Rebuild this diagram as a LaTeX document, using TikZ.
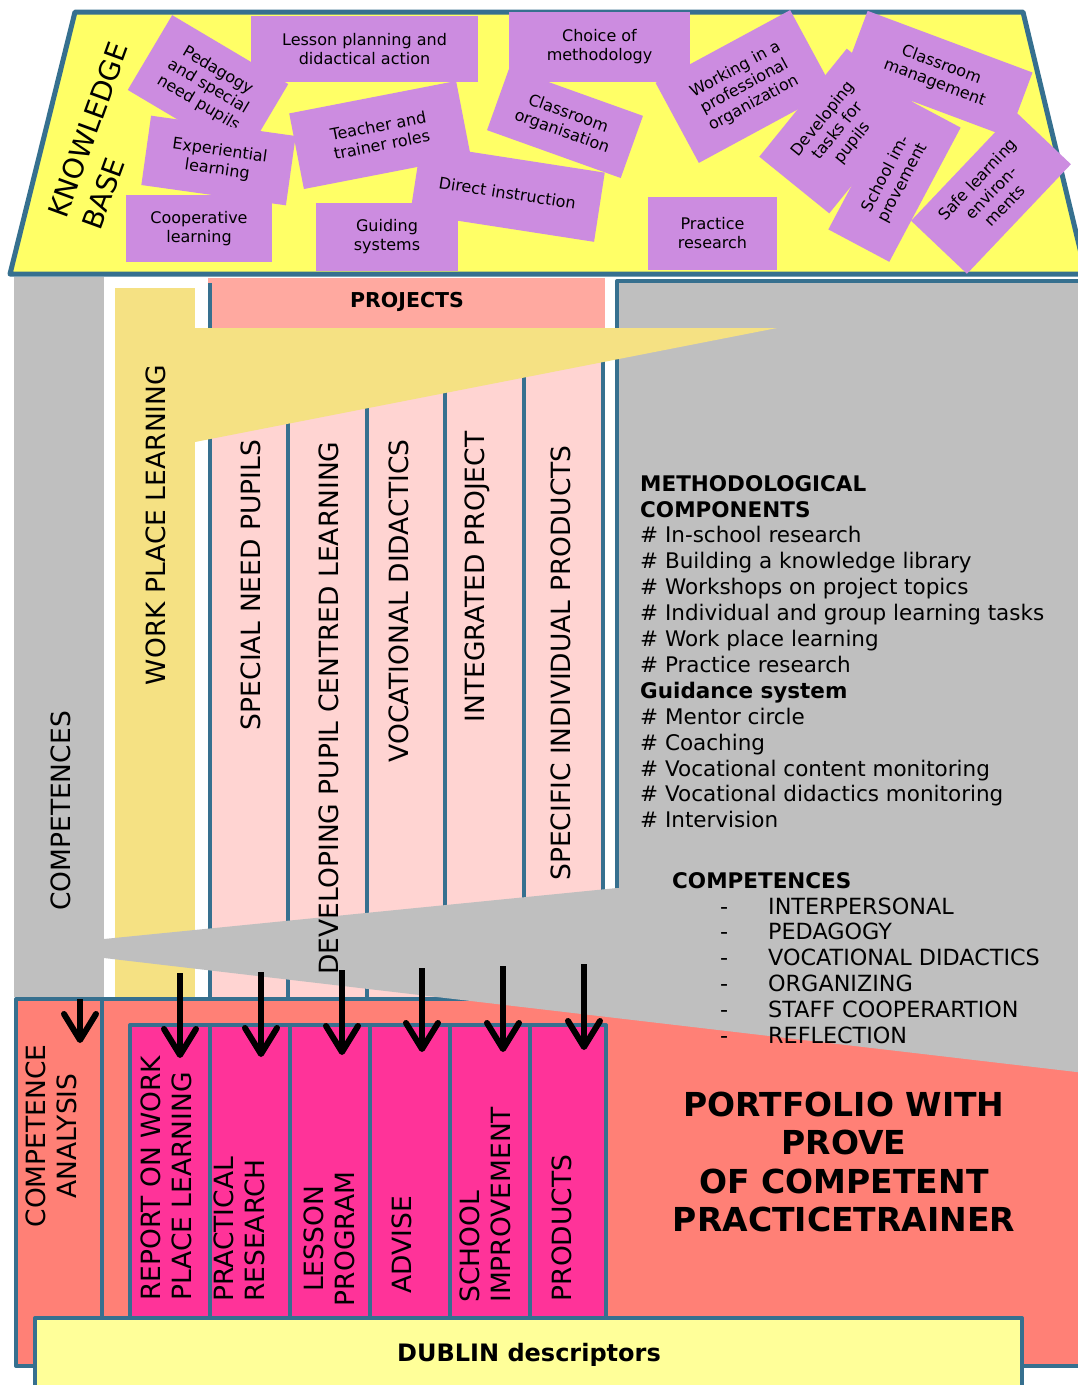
\documentclass[tikz,border=0pt]{standalone}
\usepackage{fontspec}
\setmainfont{DejaVu Sans}
\definecolor{frameblue}{HTML}{36708F}
\definecolor{roofyellow}{HTML}{FFFF66}
\definecolor{cardlilac}{HTML}{CC8CE0}
\definecolor{pillargrey}{HTML}{BFBFBF}
\definecolor{wplyellow}{HTML}{F5E183}
\definecolor{projsalmon}{HTML}{FFA9A0}
\definecolor{colpink}{HTML}{FFD4D2}
\definecolor{portsalmon}{HTML}{FF8076}
\definecolor{prodmagenta}{HTML}{FF3399}
\definecolor{dublinyellow}{HTML}{FFFF99}
\usetikzlibrary{arrows.meta}
\newcommand{\cardfont}{\fontsize{16}{19}\selectfont}
\newcommand{\capsfont}{\fontsize{26.5}{31}\selectfont}
\newcommand{\listfont}{\fontsize{21.5}{25.9}\selectfont}
\newcommand{\complistfont}{\fontsize{22.3}{25.9}\selectfont}

\begin{document}
\begin{tikzpicture}[x=1pt, y=-1pt, line join=round,
    card/.style={fill=cardlilac, align=center, inner sep=0pt, font=\cardfont},
    capsv/.style={rotate=90, inner sep=0pt, font=\capsfont},
    frame/.style={draw=frameblue, line width=4pt},
    downarrow/.style={line width=6pt, -{Straight Barb[length=26pt,width=32pt,round]}}]
      \useasboundingbox (0,0) rectangle (1077,1385);
      \fill[white] (0,0) rectangle (1077,1385);
      % Knowledge base roof
      \draw[frame, line width=5pt, fill=roofyellow] (75,12) -- (1023,12) -- (1086,274) -- (10,274) -- cycle;
      \node[rotate=70, align=left, inner sep=0pt, font=\fontsize{28}{36}\selectfont] (knowledge) at (105,136) {KNOWLEDGE\\BASE};
      % Cards on the roof
      \node[card, minimum width=135pt, minimum height=87pt, rotate=-30.7] (pedagogy) at (208,87) {Pedagogy\\and special\\need pupils};
      \node[card, minimum width=227pt, minimum height=66pt] (lessonplan) at (364.5,49) {Lesson planning and\\didactical action};
      \node[card, minimum width=146pt, minimum height=70pt, rotate=-8] (experiential) at (218.5,160.5) {Experiential\\learning};
      \node[card, minimum width=146pt, minimum height=67pt] (cooperative) at (199,228.5) {Cooperative\\learning};
      \node[card, minimum width=186pt, minimum height=70pt, rotate=-8.8] (direct) at (507.5,193) {Direct instruction};
      \node[card, minimum width=170pt, minimum height=77pt, rotate=11] (teacher) at (380,135) {Teacher and\\trainer roles};
      \node[card, minimum width=142pt, minimum height=68pt] (guiding) at (387,237) {Guiding\\systems};
      \node[card, minimum width=142pt, minimum height=66pt, rotate=-19.7] (classorg) at (565,123) {Classroom\\organisation};
      \node[card, minimum width=181pt, minimum height=70pt] (choice) at (599.5,47) {Choice of\\methodology};
      \node[card, minimum width=153pt, minimum height=91pt, rotate=28.4] (working) at (744.5,86.5) {Working in a\\professional\\organization};
      \node[card, minimum width=139pt, minimum height=90pt, rotate=51] (developing) at (838,131) {Developing\\tasks for\\pupils};
      \node[card, minimum width=176pt, minimum height=69pt, rotate=-20.5] (management) at (938,74) {Classroom\\management};
      \node[card, minimum width=152pt, minimum height=69pt, rotate=62] (schoolimp) at (894.5,178.5) {School im-\\provement};
      \node[card, minimum width=151pt, minimum height=77pt, rotate=46.5] (safe) at (991,192.5) {Safe learning\\environ-\\ments};
      \node[card, minimum width=129pt, minimum height=73pt] (practice) at (712.5,233.5) {Practice\\research};
      % Pillars
      \fill[pillargrey] (14,277) rectangle (104,997);
      \fill[wplyellow] (115,288) rectangle (195,997);
      % Projects
      \fill[projsalmon] (208,278) rectangle (605,330);
      \fill[colpink] (210,328) rectangle (603,997);
      \draw[frame] (210,283) -- (210,997);
      \draw[frame] (288,330) -- (288,997);
      \draw[frame] (367,330) -- (367,997);
      \draw[frame] (445,330) -- (445,997);
      \draw[frame] (524,330) -- (524,997);
      \draw[frame] (603,330) -- (603,997);
      % Portfolio base
      \draw[frame, fill=portsalmon] (102,999) rectangle (1085,1366);
      \draw[frame, fill=portsalmon] (16,999) rectangle (102,1366);
      % Grey panel and wedge
      \fill[pillargrey] (617,280) -- (1085,280) -- (1085,1073) -- (104,958) -- (104,939) -- (617,888) -- cycle;
      \draw[frame] (617,888) -- (617,281) -- (1085,281);
      % Yellow wedge
      \fill[wplyellow] (195,328) -- (777,328) -- (195,442) -- cycle;
      % Portfolio products
      \draw[frame, fill=prodmagenta] (130,1025) rectangle (606,1318);
      \draw[frame] (210,1025) -- (210,1318);
      \draw[frame] (290,1025) -- (290,1318);
      \draw[frame] (370,1025) -- (370,1318);
      \draw[frame] (450,1025) -- (450,1318);
      \draw[frame] (530,1025) -- (530,1318);
      % Dublin descriptors
      \draw[frame, fill=dublinyellow] (35,1318) rectangle (1022,1395);
      \node[font=\bfseries\fontsize{24}{28}\selectfont, inner sep=0pt] (dublin) at (529,1355) {DUBLIN descriptors};
      % Arrows
      \coordinate (src0) at (80,999);   \coordinate (dst0) at (80,1043);
      \coordinate (src1) at (180,973);  \coordinate (dst1) at (180,1058);
      \coordinate (src2) at (261,972);  \coordinate (dst2) at (261,1057);
      \coordinate (src3) at (342,970);  \coordinate (dst3) at (342,1055);
      \coordinate (src4) at (422,968);  \coordinate (dst4) at (422,1052);
      \coordinate (src5) at (503,966);  \coordinate (dst5) at (503,1052);
      \coordinate (src6) at (584,964);  \coordinate (dst6) at (584,1050);
      \draw[downarrow] (src0) -- (dst0);
      \draw[downarrow] (src1) -- (dst1);
      \draw[downarrow] (src2) -- (dst2);
      \draw[downarrow] (src3) -- (dst3);
      \draw[downarrow] (src4) -- (dst4);
      \draw[downarrow] (src5) -- (dst5);
      \draw[downarrow] (src6) -- (dst6);
      % Pillar labels
      \node[capsv] (competences) at (61,811) {COMPETENCES};
      \node[capsv] (wpl) at (156,525) {WORK PLACE LEARNING};
      \node[font=\bfseries\fontsize{20.5}{24}\selectfont, inner sep=0pt] (projects) at (407,302) {PROJECTS};
      \node[capsv] (special) at (251,585) {SPECIAL NEED PUPILS};
      \node[capsv] (pupilcentred) at (329,708) {DEVELOPING PUPIL CENTRED LEARNING};
      \node[capsv] (vocational) at (399,601) {VOCATIONAL DIDACTICS};
      \node[capsv] (integrated) at (477,577) {INTEGRATED PROJECT};
      \node[capsv] (specific) at (561,663) {SPECIFIC INDIVIDUAL PRODUCTS};
      % Product labels
      \node[capsv, align=center] (analysis) at (51,1136) {COMPETENCE\\ANALYSIS};
      \node[capsv, align=left, anchor=west] (report) at (166.5,1301) {REPORT ON WORK\\PLACE LEARNING};
      \node[capsv, align=left, anchor=west] (practical) at (239.5,1302) {PRACTICAL\\RESEARCH};
      \node[capsv, align=center] (lesson) at (329,1239) {LESSON\\PROGRAM};
      \node[capsv] (advise) at (402,1245) {ADVISE};
      \node[capsv, align=left, anchor=west] (school) at (485,1303) {SCHOOL\\IMPROVEMENT};
      \node[capsv] (products) at (562,1228) {PRODUCTS};
      % Text on the grey panel
      \node[anchor=north west, align=left, inner sep=0pt, font=\listfont] (methods) at (640,475)
        {\textbf{METHODOLOGICAL}\\\textbf{COMPONENTS}\\\# In-school research\\\# Building a knowledge library\\\# Workshops on project topics\\\# Individual and group learning tasks\\\# Work place learning\\\# Practice research\\\textbf{Guidance system}\\\# Mentor circle\\\# Coaching\\\# Vocational content monitoring\\\# Vocational didactics monitoring\\\# Intervision};
      \node[anchor=north west, align=left, inner sep=0pt, font=\complistfont] (complist) at (672,872)
        {{\listfont\textbf{COMPETENCES}}\\\hspace*{48pt}\makebox[48pt][l]{-}INTERPERSONAL\\\hspace*{48pt}\makebox[48pt][l]{-}PEDAGOGY\\\hspace*{48pt}\makebox[48pt][l]{-}VOCATIONAL DIDACTICS\\\hspace*{48pt}\makebox[48pt][l]{-}ORGANIZING\\\hspace*{48pt}\makebox[48pt][l]{-}STAFF COOPERARTION\\\hspace*{48pt}\makebox[48pt][l]{-}REFLECTION};
      \node[font=\bfseries\fontsize{33}{38.5}\selectfont, align=center, inner sep=0pt] (portfolio) at (844,1162)
        {PORTFOLIO WITH\\PROVE\\OF COMPETENT\\PRACTICETRAINER};
    \end{tikzpicture}
\end{document}
